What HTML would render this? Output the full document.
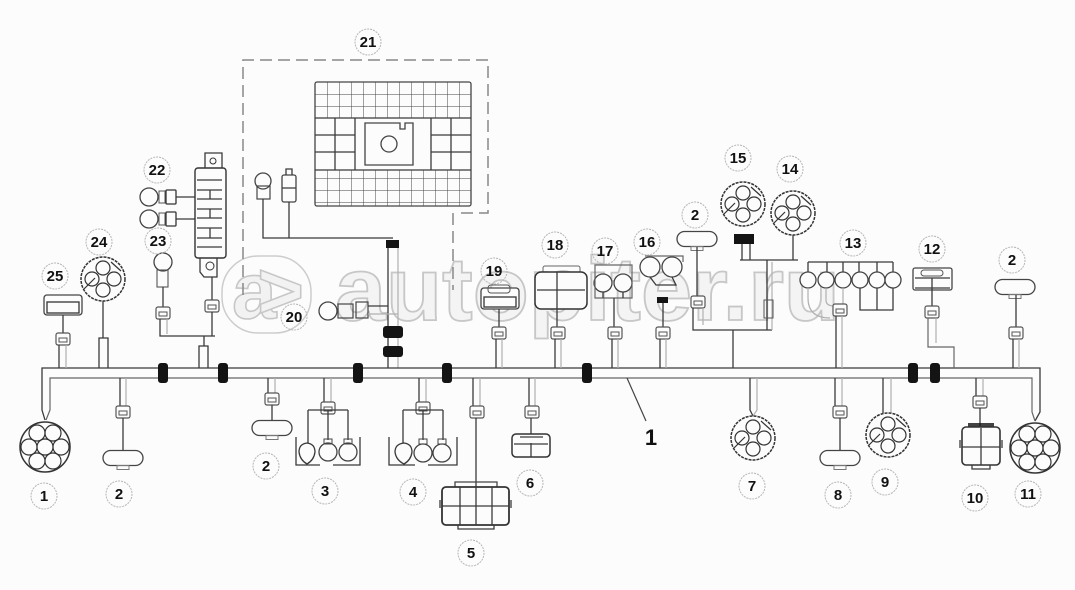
<!DOCTYPE html>
<html><head><meta charset="utf-8">
<style>html,body{margin:0;padding:0;background:#fbfcfb}svg{display:block}
.d{stroke:#3a3a3a;stroke-width:1.3;fill:none}
.m{stroke:#666;stroke-width:1.2;fill:none}
.l{stroke:#b0b0b0;stroke-width:1.2;fill:none}
.lb text{font-family:"Liberation Sans",sans-serif;font-weight:bold;font-size:15px;text-anchor:middle;fill:#111}
.lb circle{fill:none;stroke:#b5b5b5;stroke-width:1;stroke-dasharray:2 1}
.k{fill:#141414}
</style></head>
<body>
<svg width="1075" height="590" viewBox="0 0 1075 590" xmlns="http://www.w3.org/2000/svg">
<defs>
<pattern id="grid" x="315" y="82" width="12" height="12" patternUnits="userSpaceOnUse">
<path d="M0 0H12M0 0V12" stroke="#444" stroke-width="1" fill="none"/>
</pattern>
<g id="bx"><rect x="-7" y="-6" width="14" height="12" rx="2" fill="#fbfcfb" stroke="#555" stroke-width="1.2"/><rect x="-4" y="-1" width="8" height="4" fill="none" stroke="#555" stroke-width="1"/></g>
<g id="pill"><rect x="-20" y="-7.5" width="40" height="15" rx="7.5" fill="#fbfcfb" stroke="#444" stroke-width="1.3"/><rect x="-6" y="7.5" width="12" height="4" fill="none" stroke="#777" stroke-width="1"/></g>
<g id="c7"><circle r="25" fill="#fbfcfb" stroke="#333" stroke-width="1.5"/>
<g fill="none" stroke="#333" stroke-width="1.2"><circle r="8"/><circle cx="-8" cy="-14" r="8"/><circle cx="8" cy="-14" r="8"/><circle cx="-16" cy="0" r="8"/><circle cx="16" cy="0" r="8"/><circle cx="-8" cy="14" r="8"/><circle cx="8" cy="14" r="8"/></g></g>
<g id="c4"><circle r="22" fill="#fbfcfb" stroke="#333" stroke-width="1.5" stroke-dasharray="3 1"/>
<g fill="none" stroke="#333" stroke-width="1.2"><circle cx="0" cy="-11" r="7"/><circle cx="-11" cy="0" r="7"/><circle cx="11" cy="0" r="7"/><circle cx="0" cy="11" r="7"/><path d="M-19,10 L-8,-1M8,-17 L18,-8"/></g></g>
<g id="bulb"><circle r="9" fill="#fbfcfb" stroke="#444" stroke-width="1.3"/></g>
</defs>

<!-- watermark -->
<g opacity="0.9">
<rect x="222" y="256" width="89" height="77" rx="36" fill="none" stroke="#c8c8c8" stroke-width="1.5"/>
<text x="232" y="318" font-family="Liberation Sans,sans-serif" font-weight="bold" font-size="80" fill="#f2f2f2" stroke="#c2c2c2" stroke-width="1.6" textLength="72">a&gt;</text>
<text x="335" y="320" font-family="Liberation Sans,sans-serif" font-weight="bold" font-size="90" fill="#f3f4f3" stroke="#c2c2c2" stroke-width="1.8" textLength="505" lengthAdjust="spacingAndGlyphs">autopiter.ru</text>
</g>

<!-- dashed box 21 -->
<path d="M243,295 V60 H488 V213 H460 M453,213 V290" fill="none" stroke="#888" stroke-width="1.5" stroke-dasharray="12 6"/>
<!-- grid block -->
<rect x="315" y="82" width="156" height="36" fill="url(#grid)"/>
<rect x="315" y="170" width="156" height="36" fill="url(#grid)"/>
<rect x="315" y="82" width="156" height="124" rx="2" fill="none" stroke="#444" stroke-width="1.3"/>
<path class="d" d="M315,118 H471 M315,170 H471 M315,135 H355 M315,152 H355 M355,118 V170 M335,118 V170 M431,135 H471 M431,152 H471 M431,118 V170 M451,118 V170"/>
<path d="M365,123 H400 V129 H405 V123 H413 V165 H365 Z" fill="#fbfcfb" stroke="#444" stroke-width="1.3"/>
<circle cx="389" cy="144" r="8" fill="none" stroke="#444" stroke-width="1.3"/>
<!-- 21 components -->
<circle cx="263" cy="181" r="8" fill="#fbfcfb" stroke="#444" stroke-width="1.3"/>
<rect x="257" y="186" width="13" height="13" fill="none" stroke="#444" stroke-width="1.2"/>
<rect x="282" y="175" width="14" height="27" rx="2" fill="none" stroke="#444" stroke-width="1.3"/>
<path class="d" d="M282,188 H296 M286,175 V169 H292 V175"/>
<path class="d" d="M263,199 V238 H393 M289,202 V238"/>
<rect x="386" y="240" width="13" height="8" class="k"/>
<path class="d" d="M388,248 V368"/><path class="l" d="M398,248 V368"/>
<rect x="383" y="326" width="20" height="12" rx="3" class="k"/>
<rect x="383" y="346" width="20" height="11" rx="3" class="k"/>
<!-- 20 -->
<circle cx="328" cy="311" r="9" fill="#fbfcfb" stroke="#444" stroke-width="1.3"/>
<rect x="338" y="304" width="15" height="14" fill="none" stroke="#444" stroke-width="1.2"/>
<rect x="356" y="302" width="12" height="16" fill="none" stroke="#444" stroke-width="1.2"/>
<path class="d" d="M368,306 H388"/><path class="l" d="M368,314 H398"/>

<!-- main bus -->
<path class="d" d="M45,420 L42,410 V368 H1040 V412 L1035,421"/>
<path class="m" d="M46,420 L50,410 V378 H1032 V412 L1035,421"/>
<g class="k">
<rect x="158" y="363" width="10" height="20" rx="3"/>
<rect x="218" y="363" width="10" height="20" rx="3"/>
<rect x="353" y="363" width="10" height="20" rx="3"/>
<rect x="442" y="363" width="10" height="20" rx="3"/>
<rect x="582" y="363" width="10" height="20" rx="3"/>
<rect x="908" y="363" width="10" height="20" rx="3"/>
<rect x="930" y="363" width="10" height="20" rx="3"/>
</g>

<!-- 1 & 11 -->
<use href="#c7" x="45" y="447"/>
<use href="#c7" x="1035" y="448"/>

<!-- 25 -->
<rect x="44" y="295" width="38" height="20" rx="3" fill="#fbfcfb" stroke="#444" stroke-width="1.3"/>
<rect x="47" y="302" width="32" height="11" fill="none" stroke="#333" stroke-width="1.3"/>
<path class="d" d="M63,315 V334"/>
<use href="#bx" x="63" y="339"/>
<path class="d" d="M59,345 V368"/><path class="l" d="M66,345 V368"/>
<!-- 24 -->
<use href="#c4" x="103" y="279"/>
<path class="d" d="M103,301 V338"/>
<path class="d" d="M99,368 V338 H108 V368"/>
<!-- 22/23 relay -->
<use href="#bulb" x="149" y="197"/>
<use href="#bulb" x="149" y="219"/>
<rect x="159" y="191" width="6" height="12" fill="none" stroke="#555"/>
<rect x="159" y="213" width="6" height="12" fill="none" stroke="#555"/>
<rect x="166" y="190" width="10" height="14" rx="1" fill="none" stroke="#333" stroke-width="1.3"/>
<rect x="166" y="212" width="10" height="14" rx="1" fill="none" stroke="#333" stroke-width="1.3"/>
<path class="d" d="M176,197 H195 M176,219 H195"/>
<rect x="195" y="168" width="31" height="90" rx="3" fill="#fbfcfb" stroke="#333" stroke-width="1.4"/>
<path class="d" d="M197,180 H222 M197,190 H222 M197,199 H222 M197,209 H222 M197,218 H222 M197,228 H222 M197,238 H222 M197,247 H222 M210,190 V199 M210,209 V218 M210,228 V238"/>
<path class="d" d="M205,168 V153 H222 V168"/>
<circle cx="213" cy="161" r="3" fill="none" stroke="#333"/>
<path class="d" d="M200,258 V272 L204,277 H217 V258"/>
<circle cx="210" cy="266" r="4" fill="none" stroke="#333"/>
<use href="#bulb" x="163" y="262"/>
<rect x="157" y="270" width="11" height="17" fill="none" stroke="#555" stroke-width="1.1"/>
<path class="d" d="M163,287 V307"/>
<use href="#bx" x="163" y="313"/>
<path class="d" d="M160,319 V336 H215"/><path class="l" d="M167,319 V334"/>
<path class="d" d="M212,277 V300"/>
<use href="#bx" x="212" y="306"/>
<path class="d" d="M212,312 V336"/>
<path class="d" d="M199,368 V346 H208 V368"/><path class="d" d="M204,336 V346"/>

<!-- 19 -->
<rect x="481" y="288" width="38" height="21" rx="3" fill="#fbfcfb" stroke="#444" stroke-width="1.3"/>
<rect x="484" y="297" width="32" height="10" fill="none" stroke="#333" stroke-width="1.3"/>
<rect x="488" y="285" width="22" height="8" rx="3" fill="none" stroke="#555"/>
<path class="d" d="M499,309 V327"/>
<use href="#bx" x="499" y="333"/>
<path class="d" d="M496,339 V368"/><path class="l" d="M502,339 V368"/>
<!-- 18 -->
<rect x="543" y="266" width="37" height="7" rx="2" fill="none" stroke="#666"/>
<rect x="535" y="272" width="52" height="37" rx="6" fill="#fbfcfb" stroke="#333" stroke-width="1.5"/>
<path class="d" d="M557,272 V309 M537,290 H585"/>
<path class="d" d="M557,309 V327"/>
<use href="#bx" x="558" y="333"/>
<path class="d" d="M555,339 V368"/><path class="l" d="M561,339 V368"/>
<!-- 17 -->
<use href="#bulb" x="603" y="283"/>
<use href="#bulb" x="623" y="283"/>
<path class="m" d="M595,265 H632 V298 H595 Z"/>
<path class="d" d="M603,292 V298 M623,292 V298 M614,298 V327"/>
<use href="#bx" x="615" y="333"/>
<path class="d" d="M612,339 V368"/><path class="l" d="M618,339 V368"/>
<!-- 16 -->
<circle cx="650" cy="267" r="10" fill="#fbfcfb" stroke="#444" stroke-width="1.3"/>
<circle cx="672" cy="267" r="10" fill="#fbfcfb" stroke="#444" stroke-width="1.3"/>
<path class="m" d="M645,256 H683 V262"/>
<path class="d" d="M650,277 L656,285 H676 L672,277"/>
<rect x="657" y="297" width="11" height="6" class="k"/>
<path class="d" d="M663,303 V327"/>
<use href="#bx" x="663" y="333"/>
<path class="d" d="M660,339 V368"/><path class="l" d="M666,339 V368"/>
<!-- 2 top mid -->
<use href="#pill" x="697" y="239"/>
<path class="d" d="M697,247 V297"/>
<use href="#bx" x="698" y="302"/>
<path class="d" d="M693,308 V330 H772"/><path class="l" d="M703,308 V325"/>
<!-- 15, 14 -->
<use href="#c4" x="743" y="204"/>
<use href="#c4" x="793" y="213"/>
<rect x="734" y="234" width="20" height="10" class="k"/>
<path class="d" d="M742,244 V260 M750,244 V260 M793,235 V260 M740,260 H798 M767,260 V330"/>
<path class="l" d="M772,262 V330"/>
<rect x="764" y="300" width="9" height="18" fill="none" stroke="#555"/>
<path class="d" d="M733,330 V368"/>
<!-- 13 -->
<path class="d" d="M808,262 H893 M808,262 V272 M827,262 V272 M843,262 V272 M859,262 V272 M877,262 V272 M893,262 V272"/>
<g fill="#fbfcfb" stroke="#444" stroke-width="1.3">
<circle cx="808" cy="280" r="8"/><circle cx="826" cy="280" r="8"/><circle cx="843" cy="280" r="8"/><circle cx="860" cy="280" r="8"/><circle cx="877" cy="280" r="8"/><circle cx="893" cy="280" r="8"/></g>
<path class="d" d="M860,288 V310 H893 V288 M877,288 V310"/>
<path class="l" d="M808,288 V298 Q808,318 830,318 M826,288 V300 Q826,306 834,306 M843,288 V304"/>
<use href="#bx" x="840" y="310"/>
<path class="d" d="M836,316 V368"/><path class="l" d="M842,316 V368"/>
<!-- 12 -->
<rect x="913" y="268" width="39" height="22" rx="2" fill="#fbfcfb" stroke="#444" stroke-width="1.3"/>
<rect x="921" y="270" width="22" height="6" rx="3" fill="none" stroke="#555"/>
<path class="d" d="M915,278 H950 M932,278 V290 M915,288 H950"/>
<path class="d" d="M932,290 V306"/>
<use href="#bx" x="932" y="312"/>
<path class="m" d="M928,318 V347 H954 V368"/><path class="l" d="M936,318 V343"/>
<!-- 2 right -->
<use href="#pill" x="1015" y="287"/>
<path class="d" d="M1016,295 V327"/>
<use href="#bx" x="1016" y="333"/>
<path class="d" d="M1013,339 V368"/><path class="l" d="M1019,339 V368"/>

<!-- below bus -->
<!-- 2 -->
<path class="d" d="M120,378 V406"/><path class="l" d="M126,378 V406"/>
<use href="#bx" x="123" y="412"/>
<path class="d" d="M123,418 V452"/>
<use href="#pill" x="123" y="458"/>
<!-- 2b -->
<path class="d" d="M268,378 V393"/><path class="l" d="M275,378 V393"/>
<use href="#bx" x="272" y="399"/>
<path class="d" d="M272,405 V422"/>
<use href="#pill" x="272" y="428"/>
<!-- 3 -->
<path class="d" d="M324,378 V402"/><path class="l" d="M331,378 V402"/>
<use href="#bx" x="328" y="408"/>
<path class="d" d="M308,410 H348 M308,410 V443 M328,410 V440 M348,410 V440"/>
<path class="d" d="M296,437 V465 H320 M333,465 H360 V437"/>
<path class="d" d="M299,452 Q299,444 307,443 Q315,444 315,452 Q314,460 307,464 Q300,460 299,452 Z"/>
<use href="#bulb" x="328" y="452"/><use href="#bulb" x="348" y="452"/>
<rect x="324" y="439" width="8" height="5" fill="none" stroke="#444"/><rect x="344" y="439" width="8" height="5" fill="none" stroke="#444"/>
<!-- 4 -->
<path class="d" d="M419,378 V402"/><path class="l" d="M426,378 V402"/>
<use href="#bx" x="423" y="408"/>
<path class="d" d="M403,410 H443 M403,410 V443 M423,410 V440 M443,410 V440"/>
<path class="d" d="M389,437 V465 H415 M428,465 H457 V437"/>
<path class="d" d="M395,452 Q395,444 404,443 Q412,444 412,452 Q411,460 404,464 Q396,460 395,452 Z"/>
<use href="#bulb" x="423" y="453"/><use href="#bulb" x="442" y="453"/>
<rect x="419" y="439" width="8" height="5" fill="none" stroke="#444"/><rect x="438" y="439" width="8" height="5" fill="none" stroke="#444"/>
<!-- 5 -->
<path class="d" d="M473,378 V406"/><path class="l" d="M480,378 V406"/>
<use href="#bx" x="477" y="412"/>
<path class="d" d="M476,418 V487"/>
<path d="M455,487 V482 H497 V487" fill="none" stroke="#444" stroke-width="1.3"/>
<rect x="442" y="487" width="67" height="38" rx="4" fill="#fbfcfb" stroke="#333" stroke-width="1.8"/>
<path class="d" d="M460,487 V525 M476,487 V525 M492,487 V525 M442,506 H509"/>
<path class="d" d="M440,500 V508 M511,500 V508 M458,525 V529 H494 V525"/>
<!-- 6 -->
<path class="d" d="M529,378 V406"/><path class="l" d="M535,378 V406"/>
<use href="#bx" x="532" y="412"/>
<path class="d" d="M531,418 V434"/>
<rect x="512" y="434" width="38" height="23" rx="4" fill="#fbfcfb" stroke="#333" stroke-width="1.5"/>
<path class="d" d="M531,443 V457 M514,444 H548 M520,437 H543"/>
<!-- big 1 -->
<path d="M627,378 L646,421" stroke="#444" stroke-width="1.2"/>
<text x="651" y="445" font-family="Liberation Sans,sans-serif" font-weight="bold" font-size="22" text-anchor="middle" fill="#111">1</text>
<!-- 7 -->
<path class="d" d="M750,378 V410 L753,416"/><path class="l" d="M757,378 V410 L753,416"/>
<use href="#c4" x="753" y="438"/>
<!-- 8 -->
<path class="d" d="M835,378 V406"/><path class="l" d="M842,378 V406"/>
<use href="#bx" x="840" y="412"/>
<path class="d" d="M840,418 V452"/>
<use href="#pill" x="840" y="458"/>
<!-- 9 -->
<path class="d" d="M883,378 V413"/><path class="l" d="M891,378 V413"/>
<use href="#c4" x="888" y="435"/>
<!-- 10 -->
<path class="d" d="M976,378 V396"/><path class="l" d="M983,378 V396"/>
<use href="#bx" x="980" y="402"/>
<path class="d" d="M980,408 V426"/>
<rect x="968" y="423" width="26" height="5" class="k" opacity="0.8"/>
<rect x="962" y="427" width="38" height="38" rx="4" fill="#fbfcfb" stroke="#333" stroke-width="1.6"/>
<path class="d" d="M981,428 V465 M962,447 H1000 M960,440 V448 M1002,440 V448 M972,465 V469 H990 V465"/>

<!-- labels -->
<g class="lb">
<g><circle cx="44" cy="496" r="13"/><text x="44" y="501">1</text></g>
<g><circle cx="119" cy="494" r="13"/><text x="119" y="499">2</text></g>
<g><circle cx="266" cy="466" r="13"/><text x="266" y="471">2</text></g>
<g><circle cx="325" cy="491" r="13"/><text x="325" y="496">3</text></g>
<g><circle cx="413" cy="492" r="13"/><text x="413" y="497">4</text></g>
<g><circle cx="471" cy="553" r="13"/><text x="471" y="558">5</text></g>
<g><circle cx="530" cy="483" r="13"/><text x="530" y="488">6</text></g>
<g><circle cx="752" cy="486" r="13"/><text x="752" y="491">7</text></g>
<g><circle cx="838" cy="495" r="13"/><text x="838" y="500">8</text></g>
<g><circle cx="885" cy="482" r="13"/><text x="885" y="487">9</text></g>
<g><circle cx="975" cy="498" r="13"/><text x="975" y="503">10</text></g>
<g><circle cx="1028" cy="494" r="13"/><text x="1028" y="499">11</text></g>
<g><circle cx="932" cy="249" r="13"/><text x="932" y="254">12</text></g>
<g><circle cx="853" cy="243" r="13"/><text x="853" y="248">13</text></g>
<g><circle cx="790" cy="169" r="13"/><text x="790" y="174">14</text></g>
<g><circle cx="738" cy="158" r="13"/><text x="738" y="163">15</text></g>
<g><circle cx="647" cy="242" r="13"/><text x="647" y="247">16</text></g>
<g><circle cx="605" cy="251" r="13"/><text x="605" y="256">17</text></g>
<g><circle cx="555" cy="245" r="13"/><text x="555" y="250">18</text></g>
<g><circle cx="494" cy="271" r="13"/><text x="494" y="276">19</text></g>
<g><circle cx="294" cy="317" r="13" fill="#fbfcfb"/><text x="294" y="322">20</text></g>
<g><circle cx="368" cy="42" r="13"/><text x="368" y="47">21</text></g>
<g><circle cx="157" cy="170" r="13"/><text x="157" y="175">22</text></g>
<g><circle cx="158" cy="241" r="13"/><text x="158" y="246">23</text></g>
<g><circle cx="99" cy="242" r="13"/><text x="99" y="247">24</text></g>
<g><circle cx="55" cy="276" r="13"/><text x="55" y="281">25</text></g>
<g><circle cx="695" cy="215" r="13"/><text x="695" y="220">2</text></g>
<g><circle cx="1012" cy="260" r="13"/><text x="1012" y="265">2</text></g>
</g>
</svg>
</body></html>
